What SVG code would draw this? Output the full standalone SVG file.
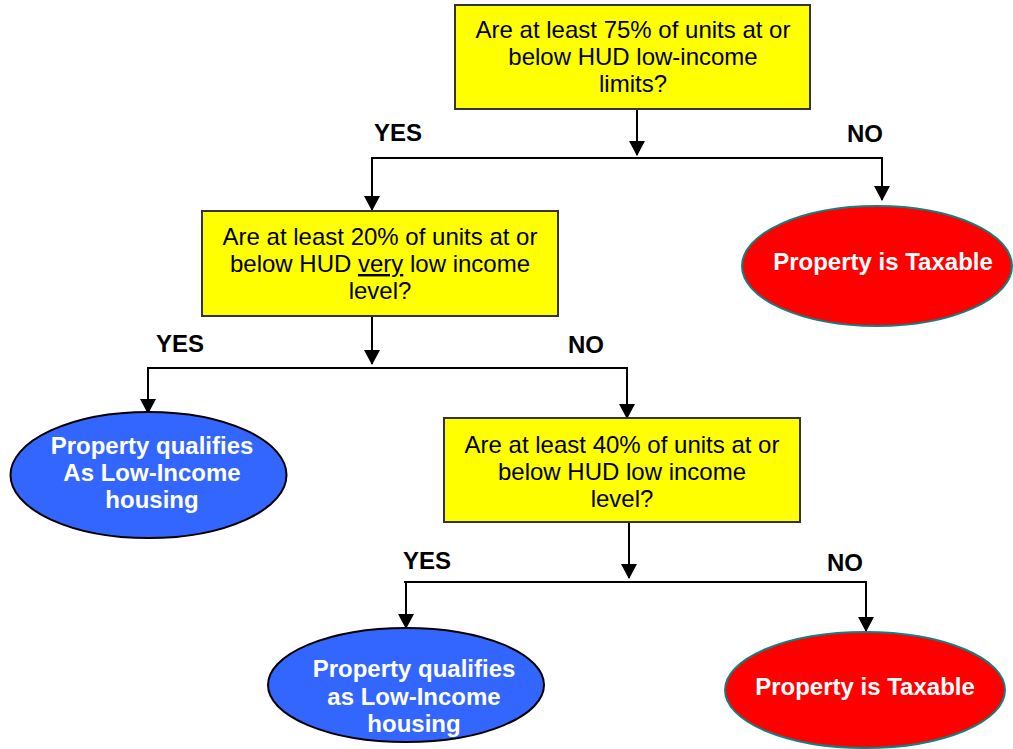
<svg xmlns="http://www.w3.org/2000/svg" width="1013" height="749" viewBox="0 0 1013 749">
<style>
.box{fill:#FFFF00;stroke:#333;stroke-width:2}
.q{font-family:"Liberation Sans",Arial,sans-serif;font-size:24px;fill:#000;text-anchor:middle}
.w{font-family:"Liberation Sans",Arial,sans-serif;font-size:24px;font-weight:bold;fill:#fff;text-anchor:middle}
.lbl{font-family:"Liberation Sans",Arial,sans-serif;font-size:24px;font-weight:bold;fill:#000;text-anchor:middle}
.blue{fill:#3366FF;stroke:#000;stroke-width:2}
.red{fill:#FF0000;stroke:#118080;stroke-width:2}
.c{stroke:#000;stroke-width:2;fill:none}
</style>
<defs>
<marker id="ah" markerUnits="userSpaceOnUse" markerWidth="16" markerHeight="18" refX="14" refY="8" orient="auto">
<path d="M0,0 L15,8 L0,16 Z" fill="#000"/>
</marker>
</defs>
<g id="connectors">
<line class="c" x1="637" y1="110" x2="637" y2="155" marker-end="url(#ah)"/>
<line class="c" x1="371" y1="158" x2="883" y2="158"/>
<line class="c" x1="372" y1="158" x2="372" y2="210" marker-end="url(#ah)"/>
<line class="c" x1="882" y1="158" x2="882" y2="200" marker-end="url(#ah)"/>
<line class="c" x1="372" y1="316" x2="372" y2="364" marker-end="url(#ah)"/>
<line class="c" x1="147" y1="368" x2="628" y2="368"/>
<line class="c" x1="148" y1="368" x2="148" y2="413" marker-end="url(#ah)"/>
<line class="c" x1="627" y1="368" x2="627" y2="418" marker-end="url(#ah)"/>
<line class="c" x1="629" y1="522" x2="629" y2="578" marker-end="url(#ah)"/>
<line class="c" x1="404" y1="582" x2="867" y2="582"/>
<line class="c" x1="406" y1="582" x2="406" y2="628" marker-end="url(#ah)"/>
<line class="c" x1="866" y1="582" x2="866" y2="631" marker-end="url(#ah)"/>
</g>
<g id="labels">
<text class="lbl" x="398" y="141">YES</text>
<text class="lbl" x="865" y="142">NO</text>
<text class="lbl" x="180" y="352">YES</text>
<text class="lbl" x="586" y="353">NO</text>
<text class="lbl" x="427" y="569">YES</text>
<text class="lbl" x="845" y="571">NO</text>
</g>
<g id="q1">
<rect class="box" x="455" y="5" width="355" height="104"/>
<text class="q" x="633" y="38">Are at least 75% of units at or</text>
<text class="q" x="633" y="65">below HUD low-income</text>
<text class="q" x="633" y="92">limits?</text>
</g>
<g id="q2">
<rect class="box" x="202" y="211" width="356" height="105"/>
<text class="q" x="380" y="245">Are at least 20% of units at or</text>
<text class="q" x="380" y="272">below HUD <tspan text-decoration="underline">very</tspan> low income</text>
<text class="q" x="380" y="299">level?</text>
</g>
<g id="q3">
<rect class="box" x="444" y="418" width="356" height="104"/>
<text class="q" x="622" y="453">Are at least 40% of units at or</text>
<text class="q" x="622" y="480">below HUD low income</text>
<text class="q" x="622" y="507">level?</text>
</g>
<g id="taxable1">
<ellipse class="red" cx="877" cy="266" rx="135" ry="60"/>
<text class="w" x="883" y="270">Property is Taxable</text>
</g>
<g id="qualifies1">
<ellipse class="blue" cx="148.5" cy="475" rx="138" ry="63"/>
<text class="w" x="152" y="454">Property qualifies</text>
<text class="w" x="152" y="481">As Low-Income</text>
<text class="w" x="152" y="508">housing</text>
</g>
<g id="qualifies2">
<ellipse class="blue" cx="406" cy="685" rx="138" ry="57"/>
<text class="w" x="414" y="677">Property qualifies</text>
<text class="w" x="414" y="705">as Low-Income</text>
<text class="w" x="414" y="732">housing</text>
</g>
<g id="taxable2">
<ellipse class="red" cx="865" cy="690" rx="140" ry="58"/>
<text class="w" x="865" y="695">Property is Taxable</text>
</g>
</svg>
